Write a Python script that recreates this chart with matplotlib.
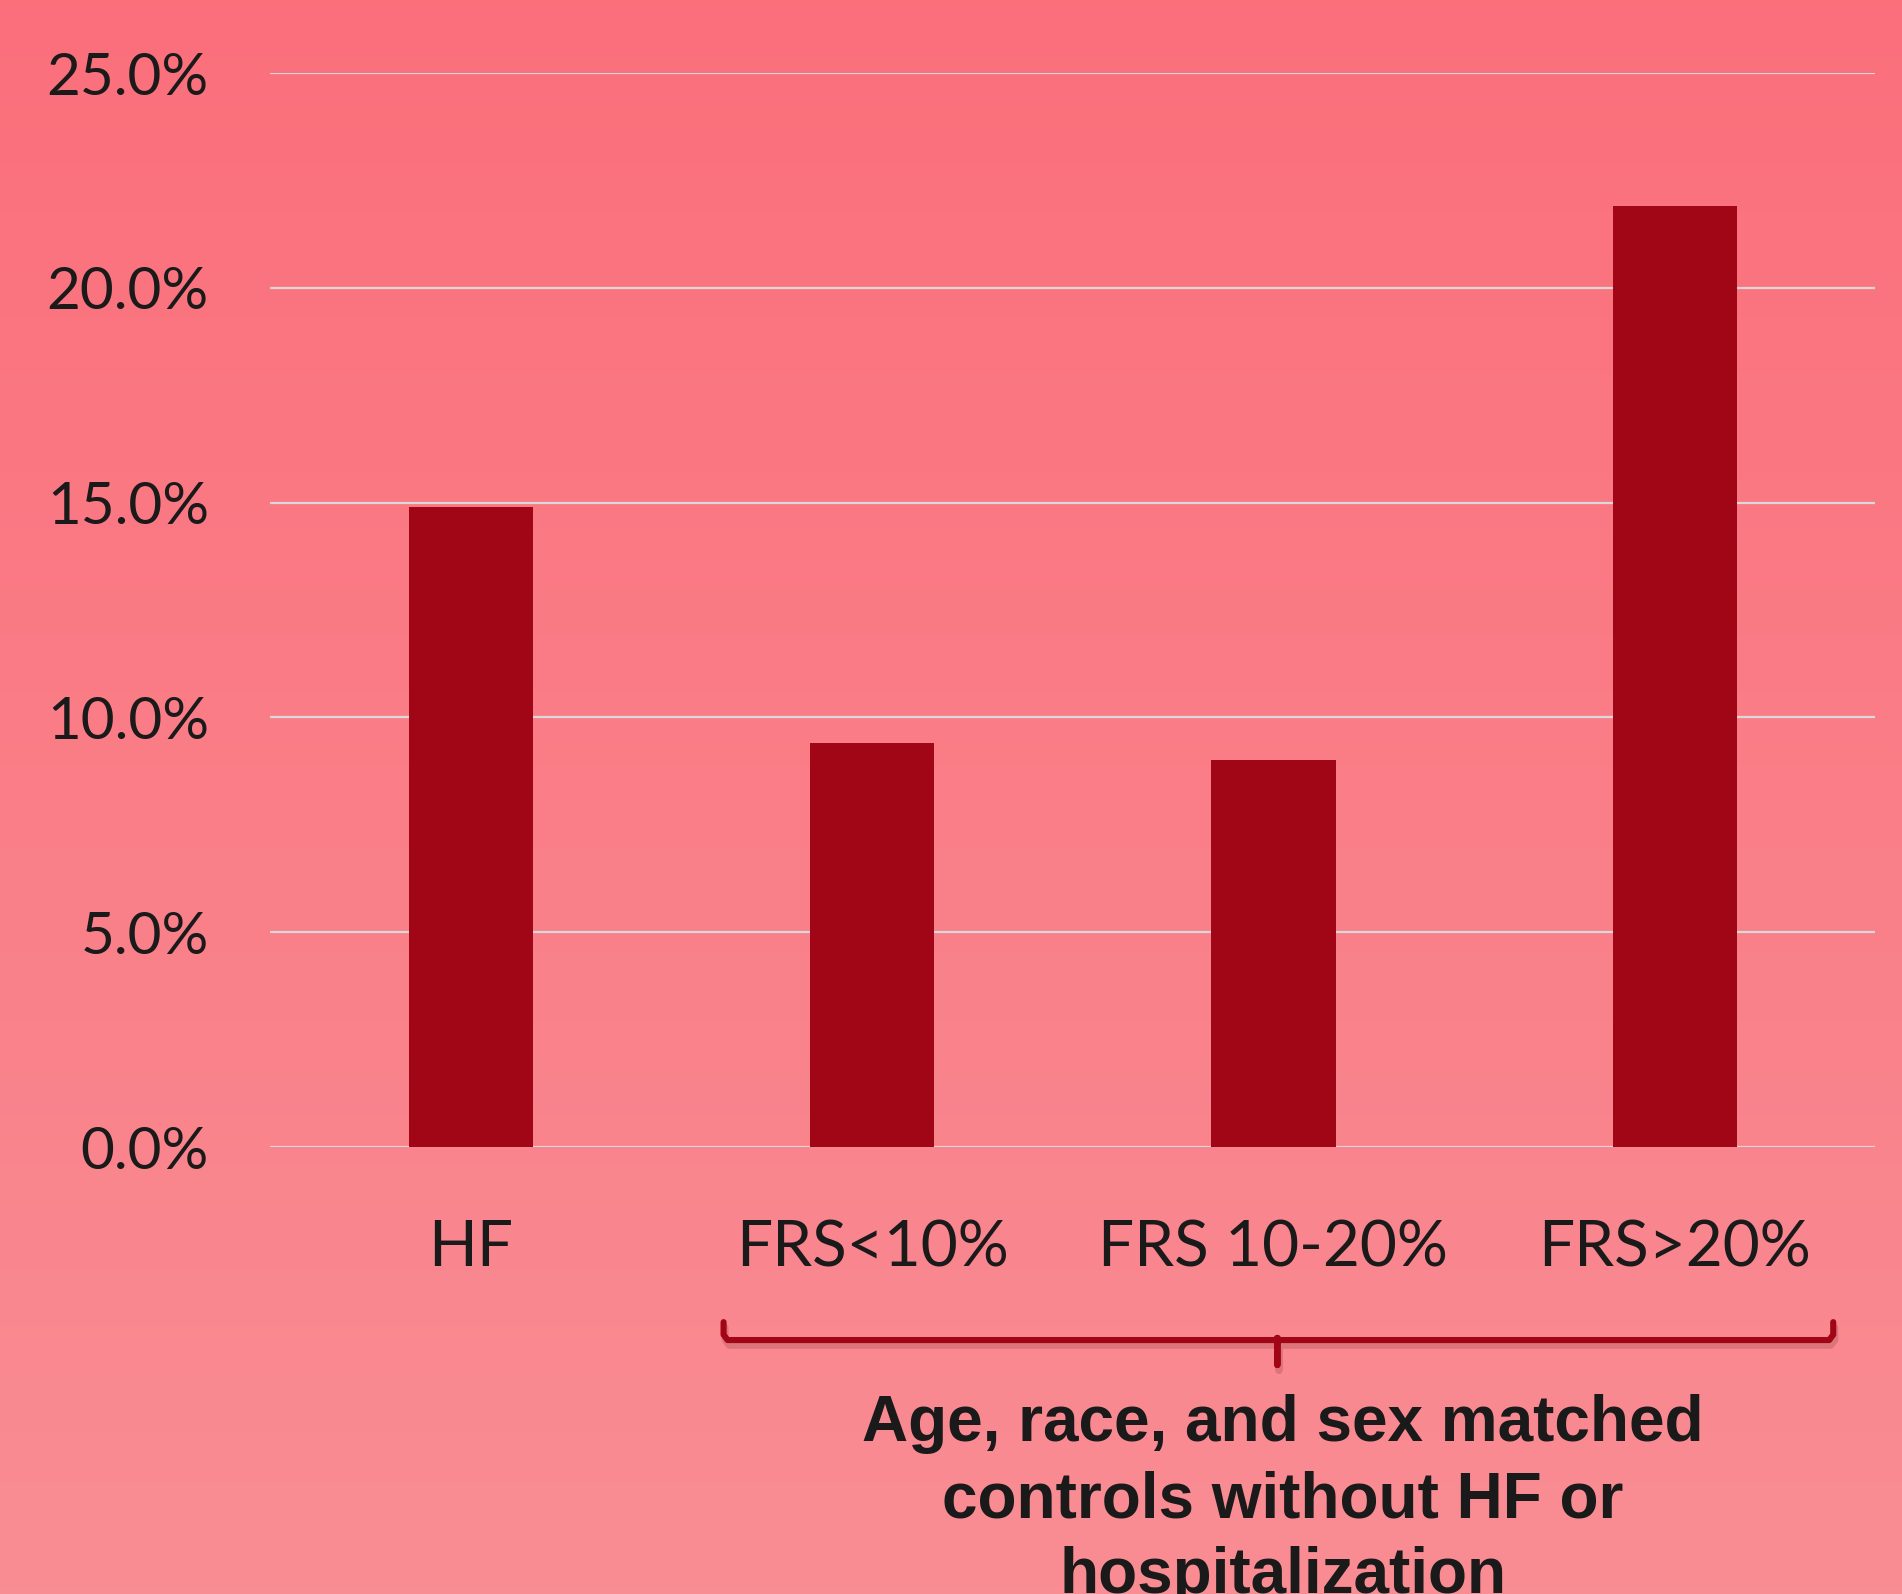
import numpy as np
import matplotlib.pyplot as plt
import matplotlib.transforms as mtransforms
from matplotlib.colors import LinearSegmentedColormap

# Werte (Prozent)
categories = ['HF', 'FRS<10%', 'FRS 10-20%', 'FRS>20%']
values = [14.9, 9.4, 9.0, 21.9]
yticks = [0, 5, 10, 15, 20, 25]
group_label = ['Age, race, and sex matched', 'controls without HF or', 'hospitalization']

bar_color = '#A00616'
narrow = ['Lato', 'DejaVu Sans']

fig = plt.figure(figsize=(19.02, 15.94), dpi=100)

# Hintergrund mit vertikalem Verlauf
bg = fig.add_axes([0, 0, 1, 1], zorder=-1)
cmap = LinearSegmentedColormap.from_list('bg', ['#FB6F7B', '#F98D94'])
bg.imshow(np.linspace(0, 1, 256).reshape(-1, 1), aspect='auto', cmap=cmap,
          extent=[0, 1, 0, 1])
bg.axis('off')

ax = fig.add_axes([0.142, 0.2804, 0.844, 0.6738])
ax.patch.set_alpha(0)
x = np.arange(len(categories))
ax.bar(x, values, width=0.31, color=bar_color, zorder=3)

ax.set_xlim(-0.5, 3.5)
ax.set_ylim(0, 25)
ax.set_yticks(yticks)
ax.set_yticklabels([f'{v:.1f}%' for v in yticks])
ax.set_xticks(x)
ax.set_xticklabels(categories)
for lbl in ax.get_yticklabels():
    lbl.set_family(narrow)
    lbl.set_fontsize(42)
    lbl.set_color('#1a1a1a')
for lbl in ax.get_xticklabels():
    lbl.set_family(narrow)
    lbl.set_fontsize(46)
    lbl.set_color('#1a1a1a')
ax.tick_params(axis='y', length=0, pad=44)
ax.tick_params(axis='x', length=0, pad=52)
ax.grid(axis='y', color='#D9D9D9', linewidth=1.6, zorder=0)
for s in ax.spines.values():
    s.set_visible(False)

# geschweifte Klammer unter den Kontrollgruppen
trans = mtransforms.blended_transform_factory(ax.transData, ax.transAxes)
x0, x1, xm = 0.63, 3.395, 2.01
yl, ye, yt = -0.1797, -0.163, -0.203
bx = [x0, x0, x0 + 0.01, xm - 0.005, xm, xm, xm, xm + 0.005, x1 - 0.01, x1, x1]
by = [ye, yl + 0.005, yl, yl, yl + 0.002, yt, yl + 0.002, yl, yl, yl + 0.005, ye]
ax.plot([v + 0.004 for v in bx], [v - 0.005 for v in by], color='#8a3a40',
        alpha=0.25, linewidth=5, transform=trans, clip_on=False,
        solid_capstyle='round', solid_joinstyle='round')
ax.plot(bx, by, color=bar_color, linewidth=4.4, transform=trans, clip_on=False,
        solid_capstyle='round', solid_joinstyle='round')

# Beschriftung der Gruppe
for i, line in enumerate(group_label):
    fig.text(1283 / 1902, 1 - (1441 + 76 * i) / 1594, line, ha='center',
             va='baseline', fontsize=46, fontweight='bold',
             family=['Liberation Sans', 'DejaVu Sans'], color='#1a1a1a')

fig.savefig('out.png', dpi=100)
